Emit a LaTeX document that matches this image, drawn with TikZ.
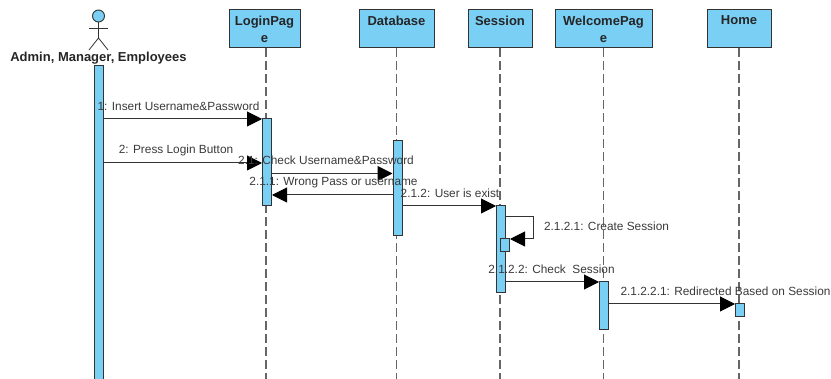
\documentclass[tikz,border=0pt]{standalone}
\usepackage{fontspec}
\setmainfont{Liberation Sans}
\usepackage{xcolor}
\usetikzlibrary{arrows.meta,positioning}
\definecolor{lifeblue}{HTML}{7ACFF5}
\definecolor{lineink}{HTML}{333333}
\definecolor{textink}{HTML}{3A3A3A}
\tikzstyle{lifebox} = [rectangle, minimum height=38pt, inner sep=0pt, align=center, draw=lineink, line width=1pt, fill=lifeblue, text=black!85, font=\bfseries\fontsize{13}{17}\selectfont]
\tikzstyle{bar} = [rectangle, minimum width=9pt, inner sep=0pt, draw=lineink, line width=1pt, fill=lifeblue]
\tikzstyle{msg} = [inner sep=0pt, text=textink, font=\fontsize{11.85}{13}\selectfont]
\tikzstyle{arrow} = [line width=1pt, draw=lineink, -{Triangle[length=15pt,width=15pt,color=black]}]
\tikzstyle{lifeline} = [line width=1.1pt, draw=black!60, dash pattern=on 9pt off 4pt]
\tikzstyle{stick} = [line width=0.8pt, draw=lineink]
\begin{document}
\begin{tikzpicture}[x=1pt,y=-1pt]
\useasboundingbox (0,0) rectangle (831,379);
% lifeline heads
\node (login) [lifebox, minimum width=71pt] at (264.5,29) {LoginPag\\e};
\node (db) [lifebox, minimum width=75pt] at (396.5,29) {Database\\~};
\node (sess) [lifebox, minimum width=64pt] at (500,29) {Session\\~};
\node (welc) [lifebox, minimum width=97pt] at (603.5,29) {WelcomePag\\e};
\node (home) [lifebox, minimum width=64pt] at (739,29) {Home\\~};
% actor
\node (head) [circle, minimum size=12pt, inner sep=0pt, draw=lineink, line width=0.9pt, fill=lifeblue] at (98.5,16) {};
\coordinate (hip) at (98.5,38);
\coordinate (armL) at (89,28);
\coordinate (armR) at (108,28);
\coordinate (legL) at (89,50);
\coordinate (legR) at (108,50);
\draw [stick] (head.south) -- (hip);
\draw [stick] (armL) -- (armR);
\draw [stick] (legL) -- (hip) -- (legR);
\node (admin) [inner sep=0pt, text=black!85, font=\bfseries\fontsize{13}{15}\selectfont] at (98.5,58) {Admin, Manager, Employees};
% lifelines
\coordinate (end) at (0,379);
\coordinate (loginx) at (266,48);
\draw [lifeline] (loginx) -- (loginx |- end);
\draw [lifeline] (db.south) -- (db.south |- end);
\draw [lifeline] (sess.south) -- (sess.south |- end);
\draw [lifeline] (welc.south) -- (welc.south |- end);
\draw [lifeline] (home.south) -- (home.south |- end);
% activations
\node (baradmin) [bar, minimum height=317pt] at (98.5,224.5) {};
\node (barlogin) [bar, minimum height=87pt] at (267,162.5) {};
\node (bardb) [bar, minimum height=95pt] at (397.5,188.5) {};
\node (barsess) [bar, minimum height=87pt] at (501,249.5) {};
\node (barself) [bar, minimum height=13pt] at (505,245.5) {};
\node (barwelc) [bar, minimum height=48pt] at (604,306) {};
\node (barhome) [bar, minimum height=13pt] at (740,310.5) {};
% levels
\coordinate (y1) at (0,119);
\coordinate (y2) at (0,163);
\coordinate (y3) at (0,173.5);
\coordinate (y4) at (0,195);
\coordinate (y5) at (0,206);
\coordinate (y6) at (0,217);
\coordinate (y7) at (0,239);
\coordinate (y8) at (0,282);
\coordinate (y9) at (0,304);
\coordinate (turn) at (533,0);
% messages
\draw [arrow] (baradmin.east |- y1) -- (barlogin.west |- y1);
\draw [arrow] (baradmin.east |- y2) -- (barlogin.west |- y2);
\draw [arrow] (barlogin.east |- y3) -- (bardb.west |- y3);
\draw [arrow] (bardb.west |- y4) -- (barlogin.east |- y4);
\draw [arrow] (bardb.east |- y5) -- (barsess.west |- y5);
\draw [arrow] (barsess.east |- y6) -- (turn |- y6) -- (turn |- y7) -- (barself.east |- y7);
\draw [arrow] (barsess.east |- y8) -- (barwelc.west |- y8);
\draw [arrow] (barwelc.east |- y9) -- (barhome.west |- y9);
% message labels
\node (msg1) [msg] at (178.5,106) {1: Insert Username\&Password};
\node (msg2) [msg] at (176,150) {2: Press Login Button};
\node (msg3) [msg] at (326,160.5) {2.1: Check Username\&Password};
\node (msg4) [msg] at (333.5,182.5) {2.1.1: Wrong Pass or username};
\node (msg5) [msg] at (450,193.5) {2.1.2: User is exist};
\node (msg6) [msg] at (606.5,226) {2.1.2.1: Create Session};
\node (msg7) [msg] at (551.5,269.5) {2.1.2.2: Check\ \ Session};
\node (msg8) [msg] at (725.5,291) {2.1.2.2.1: Redirected Based on Session};
\end{tikzpicture}
\end{document}
